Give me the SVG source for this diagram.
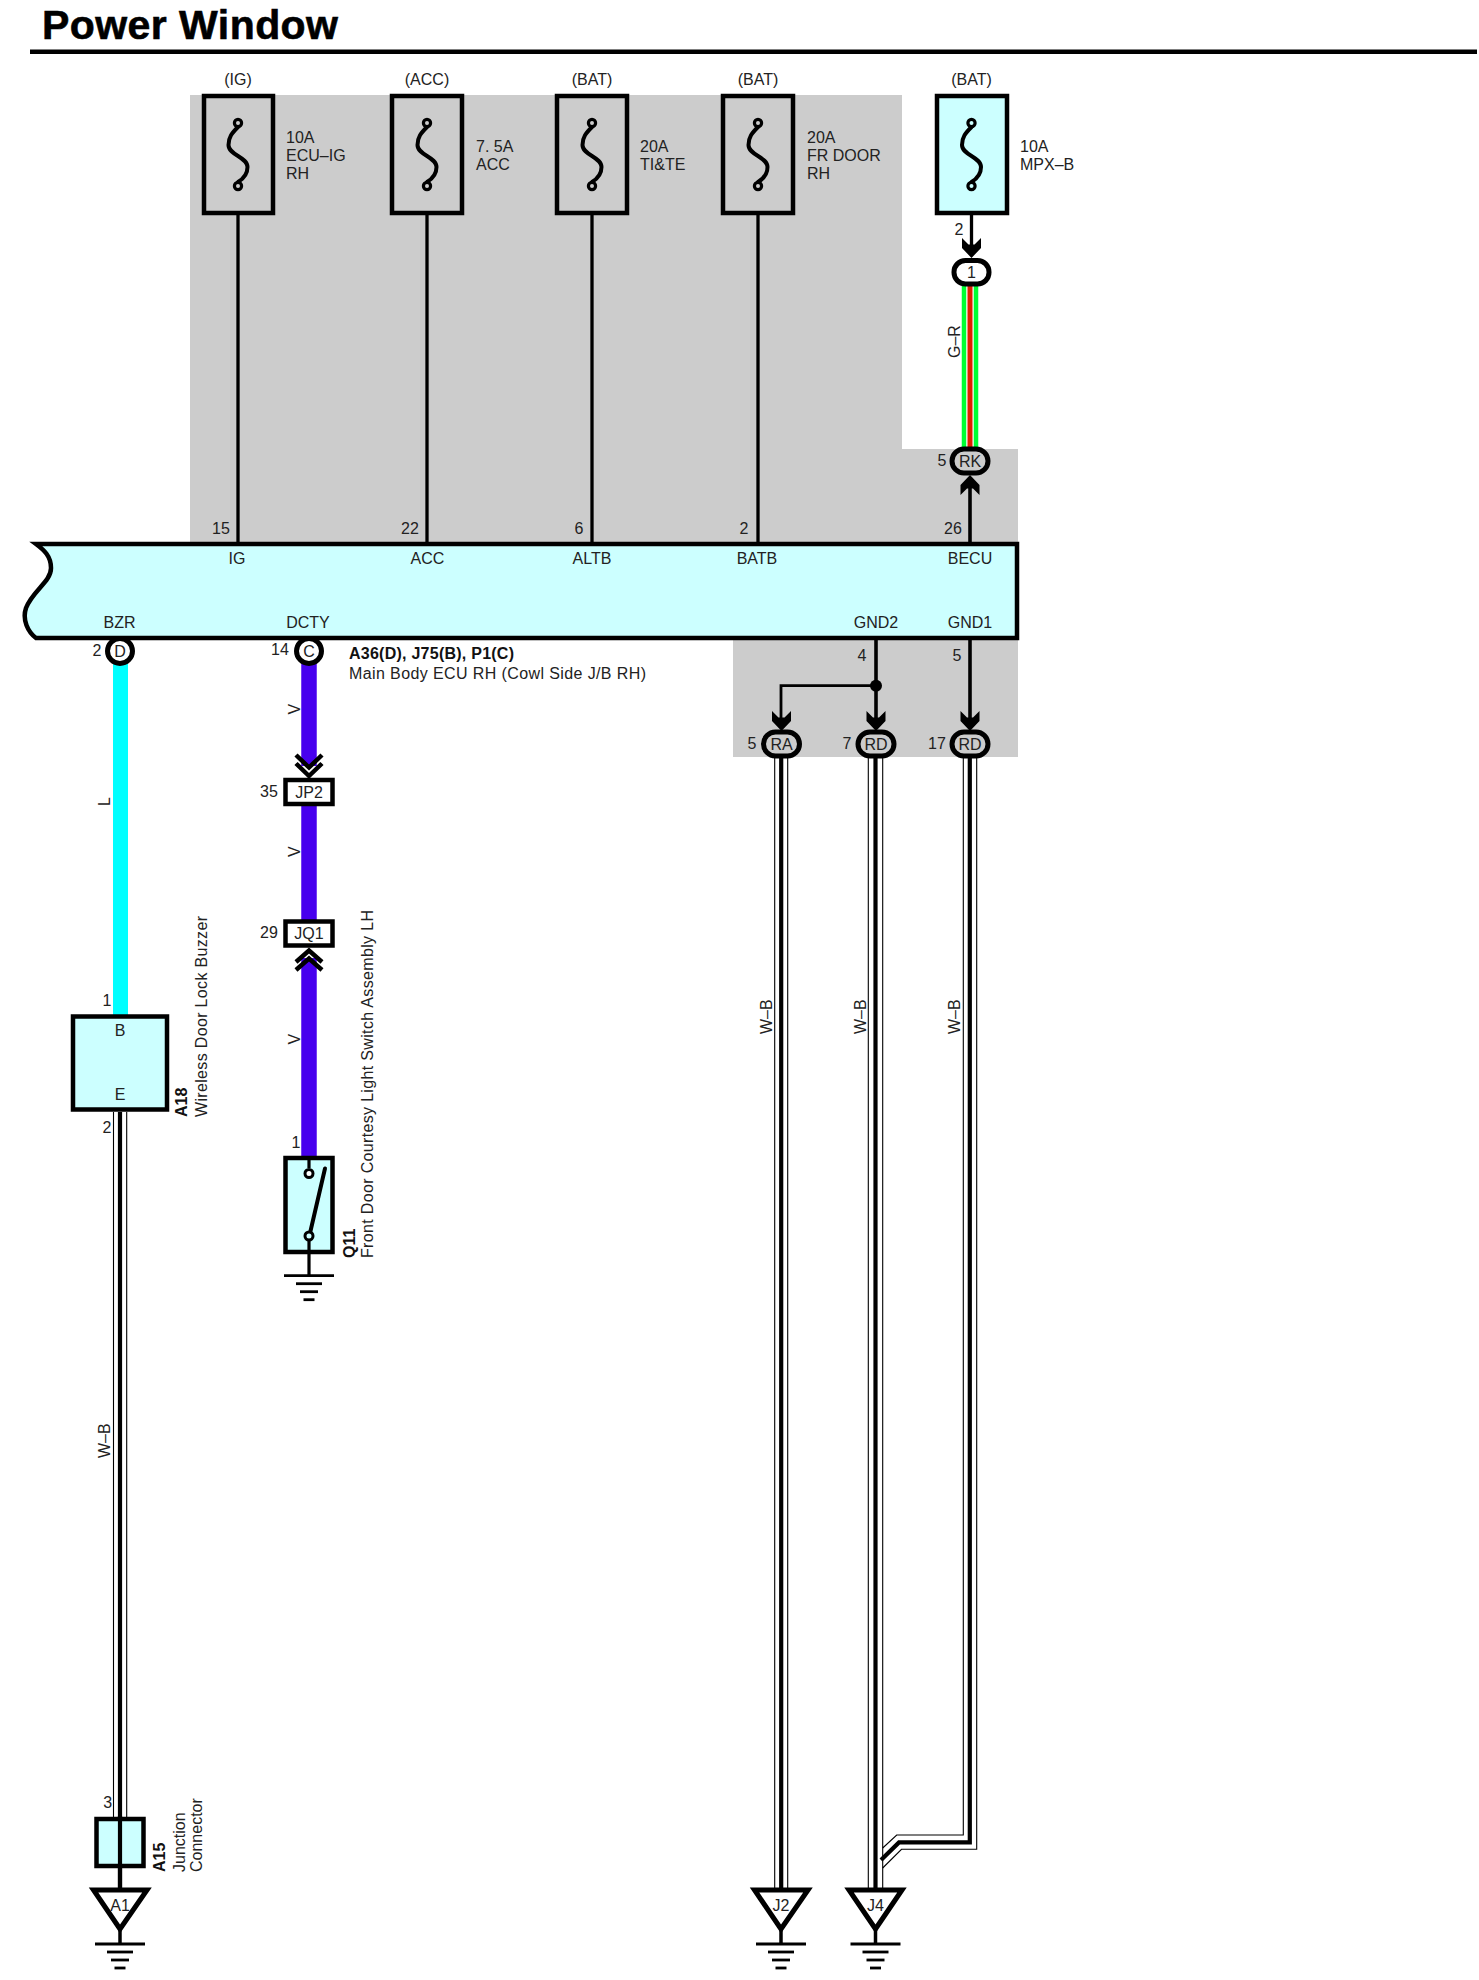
<svg xmlns="http://www.w3.org/2000/svg" xmlns:xlink="http://www.w3.org/1999/xlink" width="1479" height="1980" viewBox="0 0 1479 1980">
<style>
text{font-family:"Liberation Sans",Arial,sans-serif;font-size:16px;fill:#222}
.m{text-anchor:middle}
.b{font-weight:bold;fill:#111}
.box{fill:#ccffff;stroke:#000;stroke-width:4.5;stroke-linejoin:miter}
.gbox{fill:#cccccc;stroke:#000;stroke-width:4.5}
.wbox{fill:#fff;stroke:#000;stroke-width:4.5}
.goval{fill:#cccccc;stroke:#000;stroke-width:5}
.woval{fill:#fff;stroke:#000;stroke-width:5}
.w{fill:none;stroke:#000;stroke-width:3.3}
.thin{fill:none;stroke:#000;stroke-width:1.1}
.thick{fill:none;stroke:#000;stroke-width:4.2}
.s{fill:none;stroke:#000;stroke-width:4;stroke-linecap:round}
.chev{fill:none;stroke:#000;stroke-width:4.5}
.gnd{stroke:#000;stroke-width:2.8}
.tri{fill:#fff;stroke:#000;stroke-width:5;stroke-linejoin:miter}
.vio{fill:none;stroke:#4700ee;stroke-width:15.5}
</style>
<defs>
<path id="barb" d="M0 0L-9.5 -10V-20L-3 -13.5H3L9.5 -20V-10Z" fill="#000"/>
<g id="fusesym">
<path class="s" d="M0 127C-6 133 -9.5 137 -9.5 145C-9.5 155 9.5 157 9.5 167C9.5 174 5 179 0 182"/>
<circle cx="0" cy="123" r="3.6" fill="none" stroke="#000" stroke-width="3.2"/>
<circle cx="0" cy="186" r="3.6" fill="none" stroke="#000" stroke-width="3.2"/>
</g>
<g id="ground">
<line class="gnd" x1="-25" x2="25" y1="0" y2="0"/>
<line class="gnd" x1="-13" x2="13" y1="8" y2="8"/>
<line class="gnd" x1="-9" x2="9" y1="16" y2="16"/>
<line class="gnd" x1="-5.5" x2="5.5" y1="24" y2="24"/>
</g>
</defs>
<rect width="1479" height="1980" fill="#fff"/>
<g id="background">
<path d="M190 95H902V449H1018V546H190Z" fill="#cccccc"/>
<rect x="733" y="636" width="285" height="121" fill="#cccccc"/>
</g>
<g id="title">
<text class="b" x="42" y="38.5" style="font-size:41px;fill:#000;stroke:#000;stroke-width:0.6" textLength="296">Power Window</text>
<rect x="30" y="49.5" width="1447" height="4.5" fill="#000"/>
</g>
<g id="connectors">
<path class="w" d="M238 189V544"/>
<path class="w" d="M427 189V544"/>
<path class="w" d="M592 189V544"/>
<path class="w" d="M758 189V544"/>
<path class="w" d="M971.5 189V245"/>
<use xlink:href="#barb" href="#barb" transform="translate(971.5 258)"/>
<path d="M970 286V449" stroke="#00ff33" stroke-width="16.5" fill="none"/>
<path d="M970 286V449" stroke="#fff" stroke-width="7.5" fill="none"/>
<path d="M970 286V449" stroke="#e02000" stroke-width="5" fill="none"/>
<path class="w" d="M970 485V544" style="stroke-width:3.6"/>
<use xlink:href="#barb" href="#barb" transform="translate(970 475) rotate(180)"/>
<path class="w" d="M876 636V718" style="stroke-width:3.6"/>
<path class="w" d="M876 685.7H781V718" style="stroke-width:2.8"/>
<circle cx="876" cy="685.7" r="6" fill="#000"/>
<use xlink:href="#barb" href="#barb" transform="translate(781.5 731)"/>
<use xlink:href="#barb" href="#barb" transform="translate(876 731)"/>
<path class="w" d="M970 636V718" style="stroke-width:3.6"/>
<use xlink:href="#barb" href="#barb" transform="translate(970 731)"/>
<path d="M120.5 662V1016" stroke="#00ffff" stroke-width="15" fill="none"/>
<path class="vio" d="M309 662V766"/>
<path class="chev" d="M296 755L309 767.5L322 755"/>
<path class="chev" d="M296 763.5L309 776L322 763.5"/>
<path class="vio" d="M309 804V921"/>
<path class="vio" d="M309 958V1158"/>
<path class="chev" d="M296 962L309 950.5L322 962"/>
<path class="chev" d="M296 970L309 958.5L322 970"/>
<path class="thin" d="M113.5 1112V1818M126.7 1112V1818"/>
<path class="thick" d="M120 1112V1889"/>
<path class="thin" d="M774.7 758V1890M787.7 758V1890"/>
<path class="thick" d="M781.2 758V1890"/>
<path class="thin" d="M963.3 758V1835H896.7L882.7 1848"/>
<path class="thin" d="M976.7 758V1849.3H901.5L882.7 1868"/>
<path class="thick" d="M969.8 758V1842.4H899L881 1860"/>
<path class="thin" d="M868.3 758V1890M882.7 758V1890"/>
<path class="thick" d="M875.5 758V1890"/>
</g>
<g id="fuse-ig"><rect class="gbox" x="204" y="96" width="69" height="117"/><use xlink:href="#fusesym" href="#fusesym" x="238"/>
<text class="m" x="238" y="85">(IG)</text><text x="286" y="143">10A</text><text x="286" y="161">ECU–IG</text><text x="286" y="179">RH</text></g>
<g id="fuse-acc"><rect class="gbox" x="392" y="96" width="70" height="117"/><use xlink:href="#fusesym" href="#fusesym" x="427"/>
<text class="m" x="427" y="85">(ACC)</text><text x="476" y="152">7. 5A</text><text x="476" y="170">ACC</text></g>
<g id="fuse-tite"><rect class="gbox" x="557" y="96" width="70" height="117"/><use xlink:href="#fusesym" href="#fusesym" x="592"/>
<text class="m" x="592" y="85">(BAT)</text><text x="640" y="152">20A</text><text x="640" y="170">TI&amp;TE</text></g>
<g id="fuse-frdoor"><rect class="gbox" x="723" y="96" width="70" height="117"/><use xlink:href="#fusesym" href="#fusesym" x="758"/>
<text class="m" x="758" y="85">(BAT)</text><text x="807" y="143">20A</text><text x="807" y="161">FR DOOR</text><text x="807" y="179">RH</text></g>
<g id="fuse-mpx"><rect class="box" x="937" y="96" width="70" height="117"/><use xlink:href="#fusesym" href="#fusesym" x="971.5"/>
<text class="m" x="971.5" y="85">(BAT)</text><text x="1020" y="152">10A</text><text x="1020" y="170">MPX–B</text></g>
<g id="wire-labels">
<text transform="translate(960 358) rotate(-90)">G–R</text>
<text transform="translate(110 806) rotate(-90)">L</text>
<text transform="translate(110 1458) rotate(-90)">W–B</text>
<text transform="translate(299.5 714.5) rotate(-90)">V</text>
<text transform="translate(299.5 857) rotate(-90)">V</text>
<text transform="translate(299.5 1044.5) rotate(-90)">V</text>
<text transform="translate(771.7 1034) rotate(-90)">W–B</text>
<text transform="translate(865.7 1034) rotate(-90)">W–B</text>
<text transform="translate(960 1034) rotate(-90)">W–B</text>
<text class="m" x="959" y="235">2</text>
</g>
<g id="ecu">
<path class="box" d="M1017 544H36C44 550 51 556 51 568C51 582 33 590 26 608C22 620 28 632 36 638H1017Z"/>
<text class="m" x="237" y="564">IG</text><text class="m" x="427.5" y="564">ACC</text><text class="m" x="592" y="564">ALTB</text><text class="m" x="757" y="564">BATB</text><text class="m" x="970" y="564">BECU</text>
<text class="m" x="119.5" y="627.5">BZR</text><text class="m" x="308" y="627.5">DCTY</text><text class="m" x="876" y="627.5">GND2</text><text class="m" x="970" y="627.5">GND1</text>
<text class="m" x="221" y="533.5">15</text><text class="m" x="410" y="533.5">22</text><text class="m" x="579" y="533.5">6</text><text class="m" x="744" y="533.5">2</text><text class="m" x="953" y="533.5">26</text>
<text class="m" x="862" y="661">4</text><text class="m" x="957" y="661">5</text>
<text class="b" x="349" y="659" textLength="165">A36(D), J75(B), P1(C)</text>
<text x="349" y="679" textLength="297">Main Body ECU RH (Cowl Side J/B RH)</text>
</g>
<g id="conn-d"><circle class="woval" cx="120" cy="651" r="12.5"/><text class="m" x="120" y="656.5">D</text><text class="m" x="97" y="656">2</text></g>
<g id="conn-c"><circle class="woval" cx="309" cy="651" r="12.5"/><text class="m" x="309" y="656.5">C</text><text class="m" x="280" y="655">14</text></g>
<g id="conn-1"><rect class="woval" x="954" y="260.5" width="35" height="23.5" rx="11.5"/><text class="m" x="971.5" y="278">1</text></g>
<g id="conn-rk"><rect class="goval" x="952" y="449" width="36" height="24" rx="12"/><text class="m" x="970" y="466.5">RK</text><text class="m" x="942" y="466">5</text></g>
<g id="conn-ra"><rect class="goval" x="763.5" y="732" width="36" height="24" rx="12"/><text class="m" x="781.5" y="749.5">RA</text><text class="m" x="752" y="749">5</text></g>
<g id="conn-rd7"><rect class="goval" x="858" y="732" width="36" height="24" rx="12"/><text class="m" x="876" y="749.5">RD</text><text class="m" x="847" y="749">7</text></g>
<g id="conn-rd17"><rect class="goval" x="952" y="732" width="36" height="24" rx="12"/><text class="m" x="970" y="749.5">RD</text><text class="m" x="937" y="749">17</text></g>
<g id="conn-jp2"><rect class="wbox" x="285.5" y="780" width="47" height="24"/><text class="m" x="309" y="798">JP2</text><text class="m" x="269" y="797">35</text></g>
<g id="conn-jq1"><rect class="wbox" x="285.5" y="921.5" width="47" height="24"/><text class="m" x="309" y="939">JQ1</text><text class="m" x="269" y="938">29</text></g>
<g id="a18"><rect class="box" x="73" y="1016.5" width="94" height="93"/>
<text class="m" x="120" y="1036">B</text><text class="m" x="120" y="1099.5">E</text><text class="m" x="107" y="1006">1</text><text class="m" x="107" y="1133">2</text>
<text class="b" transform="translate(187 1117) rotate(-90)">A18</text>
<text transform="translate(207 1117) rotate(-90)" textLength="201">Wireless Door Lock Buzzer</text></g>
<g id="q11"><rect class="box" x="285.5" y="1158" width="47" height="94"/>
<path class="w" d="M309 1158V1168M309 1241V1276" style="stroke-width:3.2"/>
<circle cx="309" cy="1173.5" r="4" fill="#fff" stroke="#000" stroke-width="3"/>
<circle cx="309" cy="1236" r="4" fill="#ccffff" stroke="#000" stroke-width="3"/>
<path class="s" d="M310.5 1231L325 1168.5"/>
<use xlink:href="#ground" href="#ground" transform="translate(309 1275.7)"/>
<text class="m" x="296" y="1148">1</text>
<text class="b" transform="translate(355 1258) rotate(-90)">Q11</text>
<text transform="translate(373 1258) rotate(-90)" textLength="348">Front Door Courtesy Light Switch Assembly LH</text></g>
<g id="a15"><rect class="box" x="96.5" y="1819" width="47" height="47"/>
<path class="thick" d="M120 1816V1889"/>
<text class="m" x="107.7" y="1807.5">3</text>
<text class="b" transform="translate(165 1872) rotate(-90)">A15</text>
<text transform="translate(185 1872) rotate(-90)">Junction</text>
<text transform="translate(202.3 1872) rotate(-90)">Connector</text></g>
<g id="gnd-a1"><path class="gnd" d="M120 1929V1944" style="stroke-width:3.5"/><path class="tri" d="M93.5 1890H147L120 1929Z"/><use xlink:href="#ground" href="#ground" transform="translate(120 1944)"/><text class="m" x="120" y="1911">A1</text></g>
<g id="gnd-j2"><path class="gnd" d="M781 1929V1944" style="stroke-width:3.5"/><path class="tri" d="M754.5 1890H808L781 1929Z"/><use xlink:href="#ground" href="#ground" transform="translate(781 1944)"/><text class="m" x="781" y="1911">J2</text></g>
<g id="gnd-j4"><path class="gnd" d="M875.5 1929V1944" style="stroke-width:3.5"/><path class="tri" d="M849 1890H902L875.5 1929Z"/><use xlink:href="#ground" href="#ground" transform="translate(875.5 1944)"/><text class="m" x="875.5" y="1911">J4</text></g>
</svg>
